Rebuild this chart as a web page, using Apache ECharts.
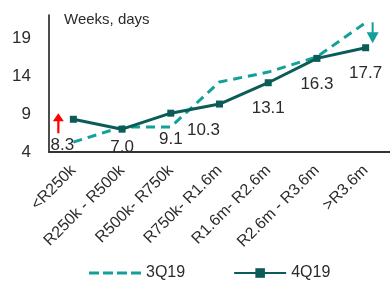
<!DOCTYPE html>
<html>
<head>
<meta charset="utf-8">
<script src="https://cdn.jsdelivr.net/npm/echarts@6/dist/echarts.min.js"></script>
<style>
  html, body { margin: 0; padding: 0; background: #fff; }
  #chart { width: 390px; height: 282px; }
</style>
</head>
<body>
<div id="chart"></div>
<script>
var categories = ['<R250k', 'R250k - R500k', 'R500k- R750k', 'R750k- R1.6m', 'R1.6m- R2.6m', 'R2.6m - R3.6m', '>R3.6m']
var q3 = [5.3, 7.3, 7.3, 13.2, 14.5, 16.5, 21.0]
var q4 = [8.3, 7.0, 9.1, 10.3, 13.1, 16.3, 17.7]
var yTicks = [4, 9, 14, 19]

var font = 'Liberation Sans'
var txt = '#2b2b2b'

// a couple of the labels sit a little off the usual spot
var labelTweak = {
    0: { offset: [-11, 0] },
    1: { distance: 6 },
    3: { offset: [-16, 0] }
}

var q4Data = q4.map(function (v, i) {
    var item = { value: v }
    if (labelTweak[i]) {
        item.label = labelTweak[i]
    }
    return item
})

// dashed legend icon, the bare M points keep the box 52x12
var dashIcon = 'path://M0,0 M52,12 M0,4.5h10v3h-10Z M14,4.5h10v3h-10Z M28,4.5h10v3h-10Z M42,4.5h10v3h-10Z'

var myChart = echarts.init(document.getElementById('chart'))

var option = {
    animation: false,
    textStyle: { fontFamily: font },
    grid: { left: 49, right: 0, top: 15, bottom: 130 },
    legend: {
        left: 84,
        top: 260,
        itemWidth: 52,
        itemHeight: 12,
        itemGap: 48,
        textStyle: { fontSize: 16, color: txt, fontFamily: font },
        data: [
            { name: '3Q19', icon: dashIcon },
            { name: '4Q19' }
        ]
    },
    graphic: [
        {
            type: 'text',
            left: 64,
            top: 12,
            style: { text: 'Weeks, days', fontSize: 15, fill: txt, fontFamily: font }
        }
    ],
    xAxis: {
        type: 'category',
        data: categories,
        boundaryGap: true,
        axisLine: { lineStyle: { color: '#333', width: 2 } },
        axisTick: { show: false },
        axisLabel: {
            rotate: 45,
            interval: 0,
            margin: 16,
            fontSize: 16,
            color: txt,
            fontFamily: font
        }
    },
    yAxis: {
        type: 'value',
        min: 4,
        max: 22,
        interval: 5,
        axisLine: { show: true, lineStyle: { color: '#111', width: 1.5 } },
        axisTick: { show: false },
        splitLine: { show: false },
        axisLabel: {
            margin: 18,
            fontSize: 17,
            color: txt,
            fontFamily: font,
            formatter: function (v) {
                return yTicks.indexOf(v) >= 0 ? String(v) : ''
            }
        }
    },
    series: [
        {
            name: '3Q19',
            type: 'line',
            data: q3,
            showSymbol: false,
            symbol: 'none',
            color: '#14a09a',
            lineStyle: { width: 3, type: [9, 6], color: '#14a09a' },
            z: 2
        },
        {
            name: '4Q19',
            type: 'line',
            data: q4Data,
            symbol: 'rect',
            symbolSize: 7,
            color: '#0b5c58',
            itemStyle: { color: '#0b5c58' },
            lineStyle: { width: 3, color: '#0b5c58' },
            z: 3,
            label: {
                show: true,
                position: 'bottom',
                distance: 14,
                fontSize: 17,
                color: txt,
                fontFamily: font,
                formatter: function (p) {
                    return p.value.toFixed(1)
                }
            },
            markPoint: {
                silent: true,
                label: { show: false },
                data: [
                    {
                        coord: [0, q4[0]],
                        symbol: 'path://M5,0 L10,8 L6,8 L6,20 L4,20 L4,8 L0,8 Z',
                        symbolSize: [11, 20],
                        symbolOffset: [-15, 4],
                        itemStyle: { color: '#ff0000' }
                    },
                    {
                        coord: [6, q4[6]],
                        symbol: 'path://M5,0 L7,0 L7,10 L12,10 L6,21 L0,10 L5,10 Z',
                        symbolSize: [12, 21],
                        symbolOffset: [7, -15],
                        itemStyle: { color: '#14a09a' }
                    }
                ]
            }
        }
    ]
}

myChart.setOption(option)
</script>
</body>
</html>
